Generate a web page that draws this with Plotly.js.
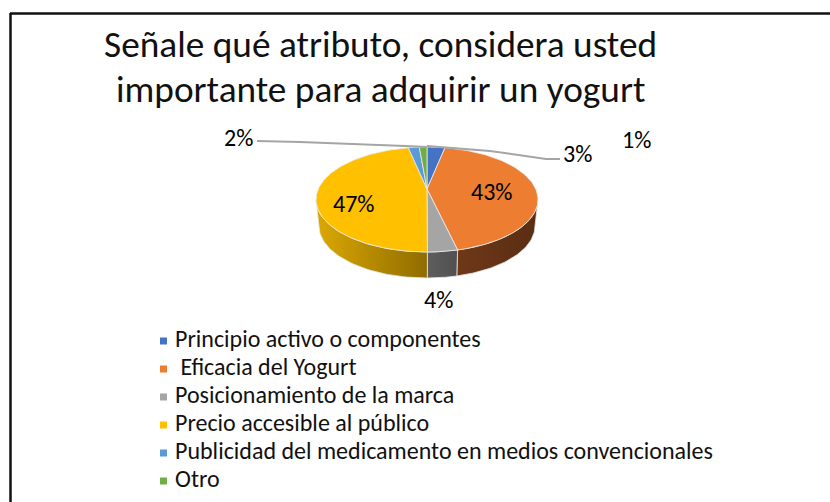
<!DOCTYPE html>
<html><head><meta charset="utf-8">
<script src="https://cdn.plot.ly/plotly-3.0.1.min.js"></script>
<style>html,body{margin:0;padding:0;background:#fff}#c{width:830px;height:502px}</style>
</head><body><div id="c"></div>
<script>
const categories = ["Principio activo o componentes"," Eficacia del Yogurt","Posicionamiento de la marca","Precio accesible al público","Publicidad del medicamento en medios convencionales","Otro"];
const values = [2.6,43,4.4,47.4,1.6,1.1];
const percentLabels = ["3%","43%","4%","47%","2%","1%"];
const topColors = ["#4472C4","#ED7D31","#A5A5A5","#FFC000","#5B9BD5","#70AD47"];
const wallLeft = ["#2F5597","#6E3818","#5E5E5E","#DCA800","#3E75A8","#4E7A31"];
const wallRight = ["#2F5597","#5A2D13","#505050","#8F6C00","#3E75A8","#4E7A31"];
const titleLines = ["Señale qué atributo, considera usted","importante para adquirir un yogurt"];

// Pie geometry (pixel space of the invisible axes)
const apex={x:427,y:189}, rim={x:427,y:199.5,rx:111,ry:52.5}, low={x:427,y:226,rx:108,ry:52};
const total=values.reduce((a,b)=>a+b,0);
const onRim=(e,t)=>[e.x+e.rx*Math.sin(t), e.y-e.ry*Math.cos(t)];
const traces=[];
let acc=0;
const arcs=values.map(v=>{const a=acc/total*2*Math.PI; acc+=v; return [a,acc/total*2*Math.PI];});

// side walls: only the front half of the rim is visible
arcs.forEach(([a,b],i)=>{
  const s=Math.max(a,Math.PI/2), e=Math.min(b,3*Math.PI/2);
  if(e<=s) return;
  const x=[],y=[],n=50;
  for(let k=0;k<=n;k++){const p=onRim(rim,s+(e-s)*k/n);x.push(p[0]);y.push(p[1]);}
  for(let k=n;k>=0;k--){const p=onRim(low,s+(e-s)*k/n);x.push(p[0]);y.push(p[1]);}
  x.push(x[0]);y.push(y[0]);
  const left=wallLeft[i], right=wallRight[i];
  // the visual left end of a wall on the near side is its larger angle
  traces.push({type:'scatter',mode:'lines',x,y,fill:'toself',
    fillgradient:{type:'horizontal',colorscale:[[0,left],[1,right]]},
    line:{color:'#e4e4e4',width:0.8},showlegend:false,hoverinfo:'skip'});
});
// top slices
arcs.forEach(([a,b],i)=>{
  const x=[apex.x],y=[apex.y],n=Math.max(6,Math.ceil(values[i]*3));
  for(let k=0;k<=n;k++){const p=onRim(rim,a+(b-a)*k/n);x.push(p[0]);y.push(p[1]);}
  x.push(apex.x);y.push(apex.y);
  traces.push({type:'scatter',mode:'lines',x,y,fill:'toself',fillcolor:topColors[i],line:{color:'#ececec',width:0.8},showlegend:false,hoverinfo:'skip'});
});
// leader lines
traces.push({type:'scatter',mode:'lines',x:[257,300,405,427],y:[141,142,146,147],line:{color:'#A5A5A5',width:2},showlegend:false,hoverinfo:'skip'});
traces.push({type:'scatter',mode:'lines',x:[427,490,546,560],y:[146,151,159,159],line:{color:'#A5A5A5',width:2},showlegend:false,hoverinfo:'skip'});

// legend rows
const rowY=categories.map((c,i)=>341+28*i);
traces.push({type:'scatter',mode:'markers',x:categories.map(()=>163.5),y:rowY,marker:{symbol:'square',size:7,color:topColors},showlegend:false,hoverinfo:'skip'});
traces.push({type:'scatter',mode:'text',x:categories.map(()=>175),y:rowY,text:categories.map(c=>c.replace(/^ /,'\u00A0')),textposition:'middle right',textfont:{family:'Carlito, Lato, sans-serif',size:24,color:'#111'},showlegend:false,hoverinfo:'skip'});

const labelPos=[[577,153],[491,191],[438,299],[353,203],[238,137],[636,139]];
const F='Carlito, Lato, "Open Sans", sans-serif';
const annotations=percentLabels.map((t,i)=>({x:labelPos[i][0],y:labelPos[i][1],xref:'x',yref:'y',text:t,showarrow:false,font:{family:F,size:24,color:'#000'}}));
titleLines.forEach((t,i)=>{
  annotations.push({x:380,y:44+i*45,xref:'x',yref:'y',text:t,showarrow:false,font:{family:F,size:37.3,color:'#111'}});
});
const layout={
  width:830,height:502,margin:{l:0,r:0,t:0,b:0,autoexpand:false},
  paper_bgcolor:'#fff',plot_bgcolor:'#fff',showlegend:false,
  xaxis:{range:[0,830],visible:false,fixedrange:true},
  yaxis:{range:[502,0],visible:false,fixedrange:true},
  annotations,
  shapes:[
    {type:'line',xref:'x',yref:'y',x0:10.5,x1:10.5,y0:13,y1:502,line:{color:'#111',width:2.5}},
    {type:'line',xref:'x',yref:'y',x0:10,x1:830,y0:13.5,y1:13.5,line:{color:'#111',width:2.5}}
  ]
};
Plotly.newPlot('c',traces,layout,{displayModeBar:false,staticPlot:true});
</script></body></html>
